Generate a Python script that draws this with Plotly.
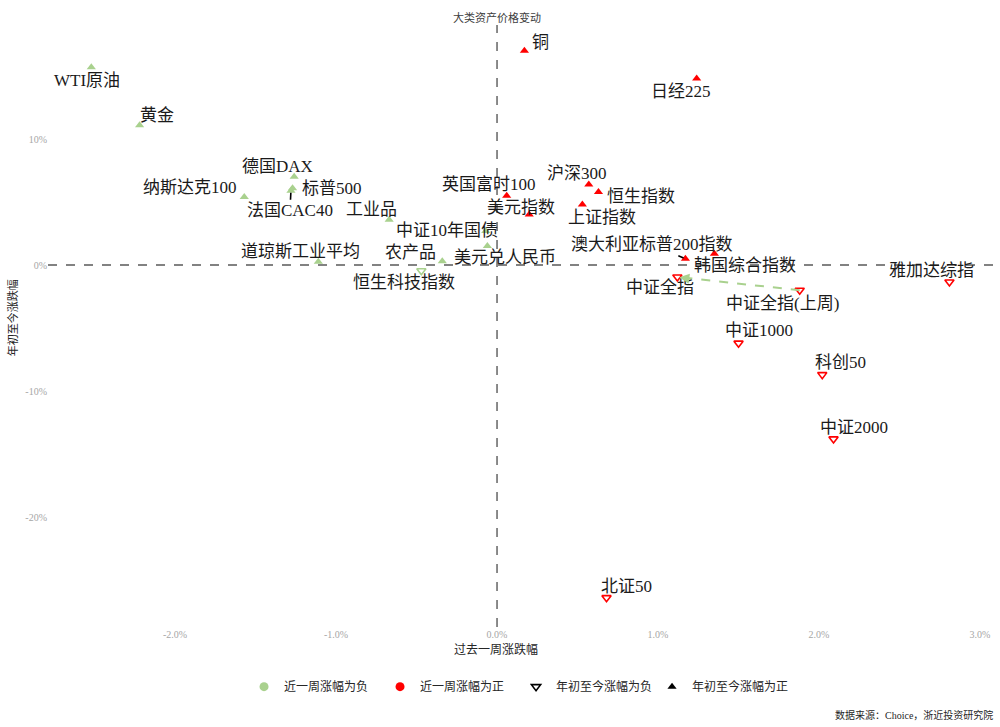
import plotly.graph_objects as go

# ---------------- data ----------------
names = ["WTI原油", "黄金", "德国DAX", "标普500", "法国CAC40", "纳斯达克100", "工业品",
         "中证10年国债", "美元兑人民币", "农产品", "道琼斯工业平均", "恒生科技指数",
         "铜", "日经225", "英国富时100", "美元指数", "沪深300", "恒生指数", "上证指数",
         "澳大利亚标普200指数", "韩国综合指数", "中证全指", "中证全指(上周)", "雅加达综指",
         "中证1000", "科创50", "中证2000", "北证50"]
week_chg = [-2.52, -2.22, -1.26, -1.27, -1.28, -1.57, -0.67,
            -0.07, -0.06, -0.34, -1.11, -0.47,
            0.17, 1.24, 0.06, 0.20, 0.57, 0.63, 0.53,
            1.17, 1.35, 1.12, 1.88, 2.81,
            1.50, 2.02, 2.09, 0.68]
ytd_chg = [15.7, 11.1, 7.0, 6.1, 5.9, 5.4, 3.6,
           2.7, 1.5, 0.3, 0.25, -0.45,
           17.0, 14.8, 5.5, 4.0, 6.4, 5.8, 4.8,
           0.5, 0.9, -0.95, -2.0, -1.35,
           -6.2, -8.7, -13.8, -26.4]

x_ticks = [-2, -1, 0, 1, 2, 3]
x_tick_text = ["-2.0%", "-1.0%", "0.0%", "1.0%", "2.0%", "3.0%"]
y_ticks = [10, 0, -10, -20]
y_tick_text = ["10%", "0%", "-10%", "-20%"]

legend_labels = ["近一周涨幅为负", "近一周涨幅为正", "年初至今涨幅为负", "年初至今涨幅为正"]

# label offsets in pixels (dx right, dy down) -- layout only
label_offsets = {
    "WTI原油": (-4, 13), "黄金": (17, -10), "德国DAX": (-17, -10), "标普500": (39, 0),
    "法国CAC40": (-1, 20), "纳斯达克100": (-54, -9), "工业品": (-18, -10),
    "中证10年国债": (-39, -1), "美元兑人民币": (18, 11), "农产品": (-32, -9),
    "道琼斯工业平均": (-18, -10), "恒生科技指数": (-17, 12), "铜": (16, -8),
    "日经225": (-16, 13), "英国富时100": (-18, -11), "美元指数": (-8, -7),
    "沪深300": (-12, -11), "恒生指数": (43, 5), "上证指数": (20, 13),
    "澳大利亚标普200指数": (-33, -14), "韩国综合指数": (31, 12), "中证全指": (-17, 11),
    "中证全指(上周)": (-17, 13), "雅加达综指": (-18, -12), "中证1000": (20, -13),
    "科创50": (18, -12), "中证2000": (20, -11), "北证50": (20, -11),
}
leader_lines = {"法国CAC40", "澳大利亚标普200指数"}

GREEN = "#a9d18e"
RED = "#ff0000"
LABEL_FONT = dict(family="Liberation Serif, Noto Sans CJK SC", size=17, color="#1a1a1a")
SMALL_FONT = "Liberation Serif, Noto Sans CJK SC"

fig = go.Figure()

# data markers
colors = [GREEN if w < 0 else RED for w in week_chg]
up_idx = [i for i, v in enumerate(ytd_chg) if v >= 0]
dn_idx = [i for i, v in enumerate(ytd_chg) if v < 0]

fig.add_trace(go.Scatter(
    x=[week_chg[i] for i in up_idx], y=[ytd_chg[i] for i in up_idx],
    mode="markers", showlegend=False, hoverinfo="text",
    text=[names[i] for i in up_idx],
    marker=dict(symbol="triangle-up", size=8, color=[colors[i] for i in up_idx],
                line=dict(width=0))))
fig.add_trace(go.Scatter(
    x=[week_chg[i] for i in dn_idx], y=[ytd_chg[i] for i in dn_idx],
    mode="markers", showlegend=False, hoverinfo="text",
    text=[names[i] for i in dn_idx],
    marker=dict(symbol="triangle-down-open", size=8, color=[colors[i] for i in dn_idx],
                line=dict(width=1.6))))

# legend entries
fig.add_trace(go.Scatter(x=[None], y=[None], mode="markers", name=legend_labels[0],
                         marker=dict(symbol="circle", size=9, color=GREEN)))
fig.add_trace(go.Scatter(x=[None], y=[None], mode="markers", name=legend_labels[1],
                         marker=dict(symbol="circle", size=9, color=RED)))
fig.add_trace(go.Scatter(x=[None], y=[None], mode="markers", name=legend_labels[2],
                         marker=dict(symbol="triangle-down-open", size=8, color="#000000",
                                     line=dict(width=1.6))))
fig.add_trace(go.Scatter(x=[None], y=[None], mode="markers", name=legend_labels[3],
                         marker=dict(symbol="triangle-up", size=8, color="#000000")))

# labels
annotations = []
for n, xv, yv in zip(names, week_chg, ytd_chg):
    dx, dy = label_offsets[n]
    if n in leader_lines:
        annotations.append(dict(x=xv, y=yv, text=n, showarrow=True, ax=dx, ay=dy,
                                arrowhead=0, arrowwidth=1.6, arrowcolor="#000000",
                                standoff=2, font=LABEL_FONT))
    else:
        annotations.append(dict(x=xv, y=yv, text=n, showarrow=False,
                                xshift=dx, yshift=-dy, font=LABEL_FONT))

# last-week -> this-week arrow for 中证全指
i_now = names.index("中证全指")
i_prev = names.index("中证全指(上周)")
shapes = [
    dict(type="line", xref="x", yref="paper", x0=0, x1=0, y0=0, y1=1,
         line=dict(color="#595959", width=1.4, dash="dash")),
    dict(type="line", xref="paper", yref="y", x0=0, x1=1, y0=0, y1=0,
         line=dict(color="#595959", width=1.4, dash="dash")),
    dict(type="line", xref="x", yref="y",
         x0=week_chg[i_prev], y0=ytd_chg[i_prev], x1=week_chg[i_now], y1=ytd_chg[i_now],
         line=dict(color=GREEN, width=2, dash="dash")),
]
annotations.append(dict(x=week_chg[i_now], y=ytd_chg[i_now], text="", showarrow=True,
                        ax=14, ay=2, arrowhead=2, arrowsize=1, arrowwidth=2,
                        arrowcolor=GREEN, standoff=2))

# titles / notes
annotations.append(dict(x=0, xref="x", y=1, yref="paper", yanchor="middle", yshift=8,
                        text="大类资产价格变动", showarrow=False,
                        font=dict(family=SMALL_FONT, size=11, color="#404040")))
annotations.append(dict(xref="paper", yref="paper", x=0.473, xanchor="center", y=0,
                        yshift=-13, text="过去一周涨跌幅", showarrow=False, yanchor="top",
                        font=dict(family=SMALL_FONT, size=12, color="#262626")))
annotations.append(dict(xref="paper", yref="paper", x=0, xanchor="center", xshift=-36,
                        y=0.513, yanchor="middle",
                        text="年初至今涨跌幅", showarrow=False, textangle=-90,
                        font=dict(family=SMALL_FONT, size=11, color="#262626")))
annotations.append(dict(xref="paper", yref="paper", x=1, xanchor="right", y=0, yanchor="top",
                        yshift=-80, text="数据来源：Choice，浙近投资研究院", showarrow=False,
                        font=dict(family=SMALL_FONT, size=10, color="#262626")))

fig.update_layout(
    width=1000, height=727,
    margin=dict(l=48, r=5, t=25, b=100),
    paper_bgcolor="white", plot_bgcolor="white",
    shapes=shapes, annotations=annotations,
    legend=dict(orientation="h", x=0.207, xanchor="left", y=-0.075, yanchor="top",
                font=dict(family=SMALL_FONT, size=12, color="#262626"),
                entrywidth=91, entrywidthmode="pixels", tracegroupgap=0),
    xaxis=dict(range=[-2.789, 3.093], tickvals=x_ticks, ticktext=x_tick_text,
               showgrid=False, zeroline=False, showline=False, ticks="",
               tickfont=dict(family="Liberation Serif", size=10, color="#a6a6a6")),
    yaxis=dict(range=[-28.73, 19.05], tickvals=y_ticks, ticktext=y_tick_text,
               showgrid=False, zeroline=False, showline=False, ticks="",
               tickfont=dict(family="Liberation Serif", size=10, color="#a6a6a6")),
    showlegend=True,
)

fig.write_html("out.html", config={"displayModeBar": False},
               post_script="document.body.style.margin='0';")
